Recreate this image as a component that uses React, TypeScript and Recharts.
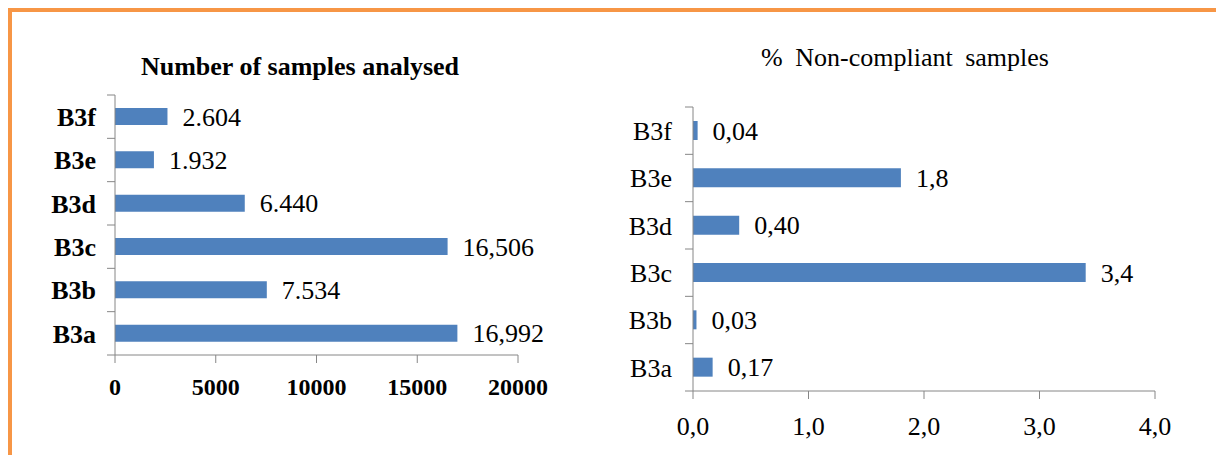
import React from "react";
import { BarChart, Bar, XAxis, YAxis, LabelList } from "recharts";

// categories listed top to bottom as they appear
const categories = ["B3f", "B3e", "B3d", "B3c", "B3b", "B3a"];

const samplesAnalysed = [2604, 1932, 6440, 16506, 7534, 16992];
const samplesLabels = ["2.604", "1.932", "6.440", "16,506", "7.534", "16,992"];
const samplesTicks = [0, 5000, 10000, 15000, 20000];

const nonCompliantPct = [0.04, 1.8, 0.4, 3.4, 0.03, 0.17];
const nonCompliantLabels = ["0,04", "1,8", "0,40", "3,4", "0,03", "0,17"];
const pctTicks = [0, 1, 2, 3, 4];

const FONT = "'Liberation Serif', 'Times New Roman', Times, serif";
const AXIS = "#868686";
const BAR = "#4F81BD";
const ORANGE = "#F79646";
const TICK_LEN = 8;

const samplesData = categories.map((name, i) => ({
  name,
  value: samplesAnalysed[i],
  label: samplesLabels[i],
}));

const pctData = categories.map((name, i) => ({
  name,
  value: nonCompliantPct[i],
  label: nonCompliantLabels[i],
}));

// Excel-style category tick: label plus tick marks on the band edges
const makeCategoryTick = (margin: number, bold: boolean, count: number) => (props: any) => {
  const { x, y, payload, index } = props;
  const axisX = x + margin;
  const half = payload.offset || 0;
  return (
    <g>
      <text
        x={x}
        y={y}
        dy="0.355em"
        textAnchor="end"
        fontSize={26}
        fontWeight={bold ? "bold" : "normal"}
        fontFamily={FONT}
        fill="#000"
      >
        {payload.value}
      </text>
      <line x1={axisX - TICK_LEN} x2={axisX} y1={y - half} y2={y - half} stroke={AXIS} />
      {index === count - 1 && (
        <line x1={axisX - TICK_LEN} x2={axisX} y1={y + half} y2={y + half} stroke={AXIS} />
      )}
    </g>
  );
};

export default function App() {
  return (
    <div style={{ position: "absolute", left: 0, top: 0, width: 1216, height: 455, background: "#fff", fontFamily: FONT }}>
      {/* orange frame, top and left only */}
      <div
        style={{
          position: "absolute",
          left: 8,
          top: 8,
          width: 1208,
          height: 447,
          borderTop: `4px solid ${ORANGE}`,
          borderLeft: `4px solid ${ORANGE}`,
          boxSizing: "border-box",
        }}
      />

      <svg width={1216} height={455} style={{ position: "absolute", left: 0, top: 0 }}>
        <text x={300} y={75} textAnchor="middle" fontFamily={FONT} fontSize={26} fontWeight="bold" fill="#000">
          Number of samples analysed
        </text>
        <text x={905} y={66} textAnchor="middle" fontFamily={FONT} fontSize={26} wordSpacing={6} fill="#000">
          % Non-compliant samples
        </text>
      </svg>

      {/* left: number of samples */}
      <div style={{ position: "absolute", left: 0, top: 0 }}>
        <BarChart
          width={600}
          height={455}
          data={samplesData}
          layout="vertical"
          margin={{ top: 95, right: 82, left: 0, bottom: 50 }}
          barCategoryGap={0}
        >
          <YAxis
            type="category"
            dataKey="name"
            width={115}
            stroke={AXIS}
            tickLine={false}
            tickSize={0}
            tickMargin={19}
            tick={makeCategoryTick(19, true, categories.length)}
            interval={0}
          />
          <XAxis
            type="number"
            domain={[0, 20000]}
            ticks={samplesTicks}
            height={50}
            tickSize={TICK_LEN}
            tickMargin={15}
            stroke={AXIS}
            tick={{ fontSize: 24, fontWeight: "bold", fill: "#000", fontFamily: FONT }}
            interval={0}
          />
          <Bar dataKey="value" fill={BAR} barSize={17} isAnimationActive={false}>
            <LabelList
              dataKey="label"
              position="right"
              offset={15}
              style={{ fontSize: 26, fill: "#000", fontFamily: FONT }}
            />
          </Bar>
        </BarChart>
      </div>

      {/* right: % non-compliant */}
      <div style={{ position: "absolute", left: 600, top: 0 }}>
        <BarChart
          width={616}
          height={455}
          data={pctData}
          layout="vertical"
          margin={{ top: 107, right: 61, left: 0, bottom: 14 }}
          barCategoryGap={0}
        >
          <YAxis
            type="category"
            dataKey="name"
            width={93}
            stroke={AXIS}
            tickLine={false}
            tickSize={0}
            tickMargin={21}
            tick={makeCategoryTick(21, false, categories.length)}
            interval={0}
          />
          <XAxis
            type="number"
            domain={[0, 4]}
            ticks={pctTicks}
            height={50}
            tickSize={TICK_LEN}
            tickMargin={18}
            stroke={AXIS}
            tickFormatter={(v: number) => v.toFixed(1).replace(".", ",")}
            tick={{ fontSize: 26, fill: "#000", fontFamily: FONT }}
            interval={0}
          />
          <Bar dataKey="value" fill={BAR} barSize={19} isAnimationActive={false}>
            <LabelList
              dataKey="label"
              position="right"
              offset={15}
              style={{ fontSize: 26, fill: "#000", fontFamily: FONT }}
            />
          </Bar>
        </BarChart>
      </div>
    </div>
  );
}
